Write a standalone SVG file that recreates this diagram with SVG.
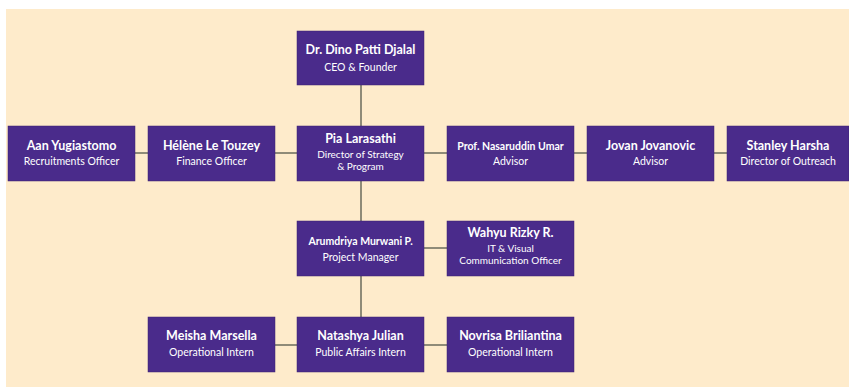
<svg xmlns="http://www.w3.org/2000/svg" width="849" height="390" viewBox="0 0 849 390">
<style>
.box{fill:#4a2b8b;stroke:#3c2070;stroke-width:0.5}
.n{font-family:Lato,"Open Sans",sans-serif;font-weight:bold;font-size:12.5px;fill:#ffffff;text-anchor:middle}
.ns{font-size:10.5px}
.s{font-family:Lato,"Open Sans",sans-serif;font-size:10.5px;fill:#ffffff;text-anchor:middle}
.t{font-size:10px}
.c line{stroke:#8f8b78;stroke-width:2}
</style>
<rect x="0" y="0" width="849" height="390" fill="#ffffff"/>
<rect x="6" y="9" width="843" height="378" fill="#feebcb"/>
<g class="c" id="connectors">
<line x1="361" y1="85" x2="361" y2="126"/>
<line x1="361" y1="181" x2="361" y2="221"/>
<line x1="361" y1="276" x2="361" y2="317"/>
<line x1="135" y1="153" x2="148" y2="153"/>
<line x1="275" y1="153" x2="297" y2="153"/>
<line x1="424" y1="153" x2="447" y2="153"/>
<line x1="574" y1="153" x2="587" y2="153"/>
<line x1="714" y1="153" x2="727" y2="153"/>
<line x1="424" y1="248" x2="447" y2="248"/>
<line x1="275" y1="345" x2="297" y2="345"/>
<line x1="424" y1="345" x2="447" y2="345"/>
</g>
<g id="ceo"><rect class="box" x="297" y="31" width="127" height="54"/>
<text class="n" x="360.5" y="54">Dr. Dino Patti Djalal</text>
<text class="s" x="360.5" y="71">CEO &amp; Founder</text></g>
<g id="aan"><rect class="box" x="8" y="126" width="127" height="55"/>
<text class="n" x="71.5" y="150">Aan Yugiastomo</text>
<text class="s" x="71.5" y="165">Recruitments Officer</text></g>
<g id="helene"><rect class="box" x="148" y="126" width="127" height="55"/>
<text class="n" x="211.5" y="150">Hélène Le Touzey</text>
<text class="s" x="211.5" y="165">Finance Officer</text></g>
<g id="pia"><rect class="box" x="297" y="126" width="127" height="55"/>
<text class="n" x="360.5" y="143">Pia Larasathi</text>
<text class="s t" x="360.5" y="158">Director of Strategy</text>
<text class="s t" x="360.5" y="170">&amp; Program</text></g>
<g id="nasaruddin"><rect class="box" x="447" y="126" width="127" height="55"/>
<text class="n ns" x="510.5" y="150">Prof. Nasaruddin Umar</text>
<text class="s" x="510.5" y="165">Advisor</text></g>
<g id="jovan"><rect class="box" x="587" y="126" width="127" height="55"/>
<text class="n" x="650.5" y="150">Jovan Jovanovic</text>
<text class="s" x="650.5" y="165">Advisor</text></g>
<g id="stanley"><rect class="box" x="727" y="126" width="122" height="55"/>
<text class="n" x="788" y="150">Stanley Harsha</text>
<text class="s" x="788" y="165">Director of Outreach</text></g>
<g id="arumdriya"><rect class="box" x="297" y="221" width="127" height="55"/>
<text class="n ns" x="360.5" y="245">Arumdriya Murwani P.</text>
<text class="s" x="360.5" y="261">Project Manager</text></g>
<g id="wahyu"><rect class="box" x="447" y="221" width="127" height="55"/>
<text class="n" x="510.5" y="237">Wahyu Rizky R.</text>
<text class="s t" x="510.5" y="252">IT &amp; Visual</text>
<text class="s t" x="510.5" y="264">Communication Officer</text></g>
<g id="meisha"><rect class="box" x="148" y="317" width="127" height="55"/>
<text class="n" x="211.5" y="340">Meisha Marsella</text>
<text class="s" x="211.5" y="356">Operational Intern</text></g>
<g id="natashya"><rect class="box" x="297" y="317" width="127" height="55"/>
<text class="n" x="360.5" y="340">Natashya Julian</text>
<text class="s" x="360.5" y="356">Public Affairs Intern</text></g>
<g id="novrisa"><rect class="box" x="447" y="317" width="127" height="55"/>
<text class="n" x="510.5" y="340">Novrisa  Briliantina</text>
<text class="s" x="510.5" y="356">Operational Intern</text></g>
</svg>
